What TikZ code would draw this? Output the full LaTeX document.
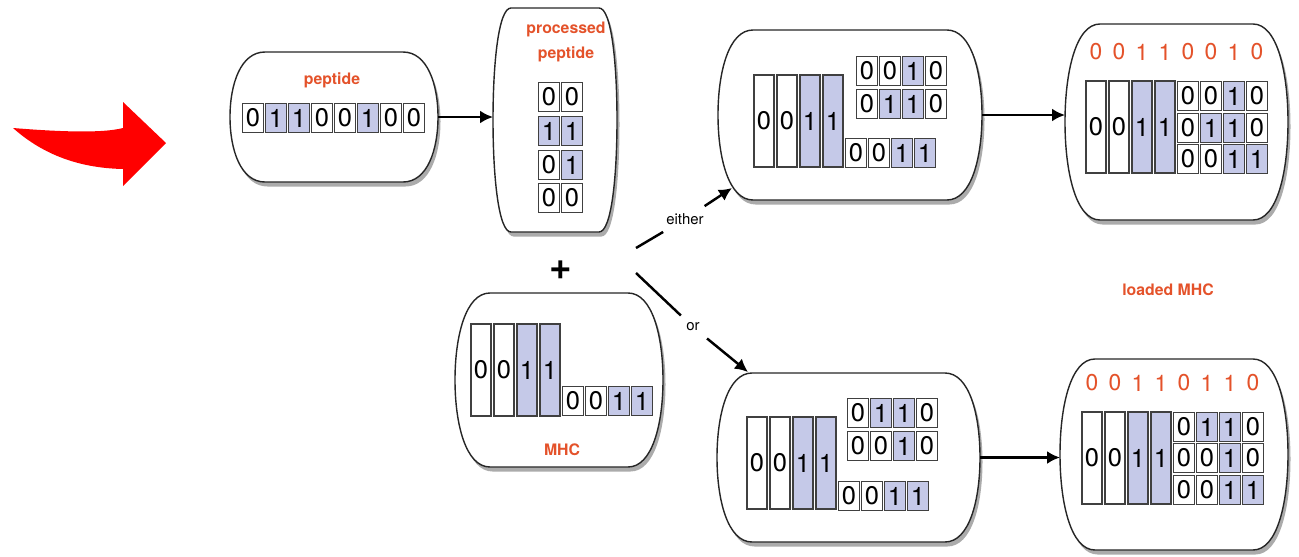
\documentclass[tikz,border=0pt]{standalone}
\usepackage{fontspec}
\setmainfont{TeX Gyre Heros}
\usepackage{tikz}
\usetikzlibrary{arrows.meta, shadows}

\definecolor{bitblue}{RGB}{197,201,232}
\definecolor{labelred}{RGB}{228,82,42}

\tikzset{
  capsule/.style={draw=black!85, line width=0.8pt, fill=white,
    drop shadow={shadow xshift=0.5mm, shadow yshift=-0.9mm, fill=black!60, opacity=0.55}},
  cell/.style={draw=black!75, line width=0.7pt, minimum width=4.1mm, minimum height=5.7mm,
    inner sep=0pt, font=\fontsize{14.5}{14.5}\selectfont},
  tall/.style={cell, minimum width=4mm, minimum height=18.4mm},
  bit0/.style={fill=white},
  bit1/.style={fill=bitblue},
  title/.style={font=\fontsize{9}{14.5}\selectfont\bfseries, text=labelred},
  code/.style={font=\fontsize{13}{13}\selectfont, text=labelred},
  choice/.style={font=\fontsize{8.5}{10}\selectfont, inner sep=4pt},
  plus/.style={font=\fontsize{22}{22}\selectfont\bfseries},
  link/.style={line width=1.4pt},
  flow/.style={link, -{Latex[length=2.6mm,width=2.6mm]}}
}

%% rounded box with bulging sides: [corner] name, x1, y1, x2, y2
\newcommand{\capsule}[6][35]{%
  \draw[capsule] ({#3+#1},#4) -- ({#5-#1},#4)
    .. controls ({#5-0.3*#1},#4) and (#5,{#4+0.25*(#6-#4)}) .. (#5,{(#4+#6)/2})
    .. controls (#5,{#6-0.25*(#6-#4)}) and ({#5-0.3*#1},#6) .. ({#5-#1},#6)
    -- ({#3+#1},#6)
    .. controls ({#3+0.3*#1},#6) and (#3,{#6-0.25*(#6-#4)}) .. (#3,{(#4+#6)/2})
    .. controls (#3,{#4+0.25*(#6-#4)}) and ({#3+0.3*#1},#4) .. cycle;
  \coordinate (#2-w) at (#3,{(#4+#6)/2});
  \coordinate (#2-e) at (#5,{(#4+#6)/2});
}

%% a row of bits: name, x of first, y, style, bits
\newcommand{\bitrow}[5]{%
  \foreach \b [count=\i] in {#5}
    \node[#4, bit\b] (#1\i) at ({#2+23*(\i-1)},#3) {\b};
}

\begin{document}
\begin{tikzpicture}[x=0.2mm, y=-0.2mm]
    \useasboundingbox (0,0) rectangle (1299,556);

    %% red arrow
    \fill[red] (13,128) .. controls (50,131) and (100,134) .. (123,128) -- (123,102)
      -- (166,143) -- (123,186) -- (123,169) .. controls (75,168) and (40,152) .. cycle;

    %% peptide
    \capsule{pep}{230}{52}{438}{182}
    \node[title] (peplabel) at (332,80) {peptide};
    \bitrow{pep}{253}{118}{cell}{0,1,1,0,0,1,0,0}

    %% processed peptide
    \capsule[18]{proc}{493}{8}{617}{232}
    \node[title, align=center] (proclabel) at (566,42) {processed\\peptide};
    \bitrow{procA}{549}{97}{cell}{0,0}
    \bitrow{procB}{549}{131}{cell}{1,1}
    \bitrow{procC}{549}{165}{cell}{0,1}
    \bitrow{procD}{549}{198}{cell}{0,0}

    %% MHC
    \node[plus] (plus) at (561,270) {+};
    \capsule{mhc}{455}{293}{663}{467}
    \bitrow{mhcT}{481}{370}{tall}{0,0,1,1}
    \bitrow{mhcB}{573}{401}{cell}{0,0,1,1}
    \node[title] (mhclabel) at (562,450) {MHC};

    %% either / or
    \coordinate (up) at (636,248);
    \coordinate (down) at (636,273);
    \coordinate (tm-in) at (732,188);
    \coordinate (bm-in) at (748,372);
    \node[choice] (either) at (685,219) {either};
    \node[choice] (or) at (693,327) {or};
    \draw[link] (up) -- (either);
    \draw[flow] (either) -- (tm-in);
    \draw[link] (down) -- (or);
    \draw[flow] (or) -- (bm-in);

    %% top: MHC with two peptides
    \capsule{tm}{718}{30}{982}{200}
    \bitrow{tmT}{764}{121}{tall}{0,0,1,1}
    \bitrow{tmB}{856}{153}{cell}{0,0,1,1}
    \bitrow{tmU}{867}{71}{cell}{0,0,1,0}
    \bitrow{tmV}{867}{104}{cell}{0,1,1,0}

    %% top: loaded MHC
    \capsule{tr}{1065}{24}{1288}{220}
    \foreach \d [count=\i] in {0,0,1,1,0,0,1,0}
      \node[code] (trD\i) at ({1096+23*(\i-1)},52) {\d};
    \bitrow{trT}{1096}{127}{tall}{0,0,1,1}
    \bitrow{trA}{1188}{96}{cell}{0,0,1,0}
    \bitrow{trB}{1188}{128}{cell}{0,1,1,0}
    \bitrow{trC}{1188}{159}{cell}{0,0,1,1}

    \node[title] (loaded) at (1168,290) {loaded MHC};

    %% bottom: MHC with two peptides
    \capsule{bm}{717}{373}{980}{542}
    \bitrow{bmT}{757}{463}{tall}{0,0,1,1}
    \bitrow{bmB}{849}{496}{cell}{0,0,1,1}
    \bitrow{bmU}{858}{413}{cell}{0,1,1,0}
    \bitrow{bmV}{858}{446}{cell}{0,0,1,0}

    %% bottom: loaded MHC
    \capsule{br}{1060}{359}{1288}{550}
    \foreach \d [count=\i] in {0,0,1,1,0,1,1,0}
      \node[code] (brD\i) at ({1092+23*(\i-1)},383) {\d};
    \bitrow{brT}{1092}{458}{tall}{0,0,1,1}
    \bitrow{brA}{1184}{427}{cell}{0,1,1,0}
    \bitrow{brB}{1184}{458}{cell}{0,0,1,0}
    \bitrow{brC}{1184}{490}{cell}{0,0,1,1}

    %% steps
    \draw[flow] (pep-e) -- (pep-e -| proc-w);
    \draw[flow] (tm-e) -- (tm-e -| tr-w);
    \draw[flow] (bm-e) -- (bm-e -| br-w);
\end{tikzpicture}
\end{document}
